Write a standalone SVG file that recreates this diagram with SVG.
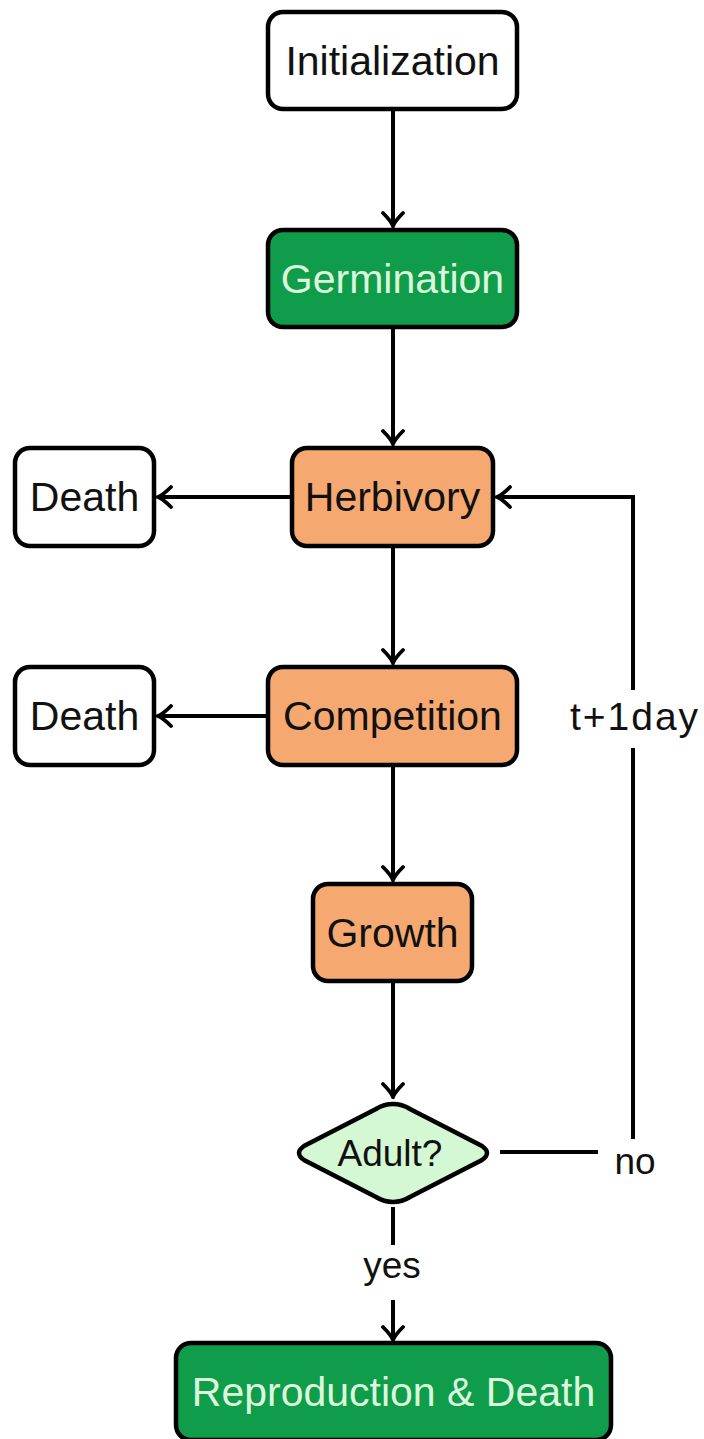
<svg xmlns="http://www.w3.org/2000/svg" width="704" height="1439" viewBox="0 0 704 1439">
<style>
.box{stroke:#000;stroke-width:4.5;}
.white{fill:#fff;}
.green{fill:#0f9d4b;}
.orange{fill:#f5a970;}
.dia{fill:#d3f8d3;}
.t{font-family:"Liberation Sans","DejaVu Sans",sans-serif;font-size:41px;text-anchor:middle;fill:#111;}
.lbl{font-size:37px;}
.tl{fill:#dcf8dc;}
.edge{stroke:#000;stroke-width:4;fill:none;}
</style>
<defs>
<marker id="arr" viewBox="-16 -12 18 24" refX="0" refY="0" markerWidth="18" markerHeight="24" markerUnits="userSpaceOnUse" orient="auto">
<path d="M-13,-10 Q-5,-2 0,0 Q-5,2 -13,10" fill="none" stroke="#000" stroke-width="3.8" stroke-linecap="round"/>
</marker>
</defs>
<g id="edges">
<line class="edge" x1="393" y1="110" x2="393" y2="226" marker-end="url(#arr)"/>
<line class="edge" x1="393" y1="328" x2="393" y2="444" marker-end="url(#arr)"/>
<line class="edge" x1="393" y1="547" x2="393" y2="663" marker-end="url(#arr)"/>
<line class="edge" x1="393" y1="766" x2="393" y2="880" marker-end="url(#arr)"/>
<line class="edge" x1="393" y1="982" x2="393" y2="1097" marker-end="url(#arr)"/>
<line class="edge" x1="291" y1="497" x2="158" y2="497" marker-end="url(#arr)"/>
<line class="edge" x1="267" y1="716" x2="158" y2="716" marker-end="url(#arr)"/>
<line class="edge" x1="393" y1="1207" x2="393" y2="1245"/>
<line class="edge" x1="393" y1="1300" x2="393" y2="1340" marker-end="url(#arr)"/>
<text class="t lbl" x="392" y="1278">yes</text>
<line class="edge" x1="500" y1="1152" x2="598" y2="1152"/>
<text class="t lbl" x="635" y="1174">no</text>
<line class="edge" x1="633" y1="1139" x2="633" y2="748"/>
<text class="t" x="635" y="730" style="font-size:39px;letter-spacing:2px">t+1day</text>
<polyline class="edge" points="633,690 633,497 497,497" marker-end="url(#arr)"/>
</g>
<g id="initialization">
<rect class="box white" x="268" y="12" width="249" height="97" rx="15"/>
<text class="t" x="392.5" y="75">Initialization</text>
</g>
<g id="germination">
<rect class="box green" x="268" y="230" width="249" height="97" rx="15"/>
<text class="t tl" x="392.5" y="293">Germination</text>
</g>
<g id="herbivory">
<rect class="box orange" x="292" y="448" width="201" height="98" rx="15"/>
<text class="t" x="392.5" y="511">Herbivory</text>
</g>
<g id="death1">
<rect class="box white" x="15" y="448" width="139" height="98" rx="15"/>
<text class="t" x="84.5" y="511">Death</text>
</g>
<g id="competition">
<rect class="box orange" x="268" y="667" width="249" height="98" rx="15"/>
<text class="t" x="392.5" y="730">Competition</text>
</g>
<g id="death2">
<rect class="box white" x="15" y="667" width="139" height="98" rx="15"/>
<text class="t" x="84.5" y="730">Death</text>
</g>
<g id="growth">
<rect class="box orange" x="313" y="884" width="159" height="97" rx="15"/>
<text class="t" x="392.5" y="947">Growth</text>
</g>
<g id="adult">
<path class="box dia" d="M393,1104 Q402,1104 410,1109 L482,1146 Q492,1153 482,1160 L410,1197 Q402,1202 393,1202 Q384,1202 376,1197 L304,1160 Q294,1153 304,1146 L376,1109 Q384,1104 393,1104 Z"/>
<text class="t lbl" x="390" y="1166">Adult?</text>
</g>
<g id="reproduction">
<rect class="box green" x="176" y="1343" width="435" height="97" rx="15"/>
<text class="t tl" x="393.5" y="1406">Reproduction &amp; Death</text>
</g>
</svg>
